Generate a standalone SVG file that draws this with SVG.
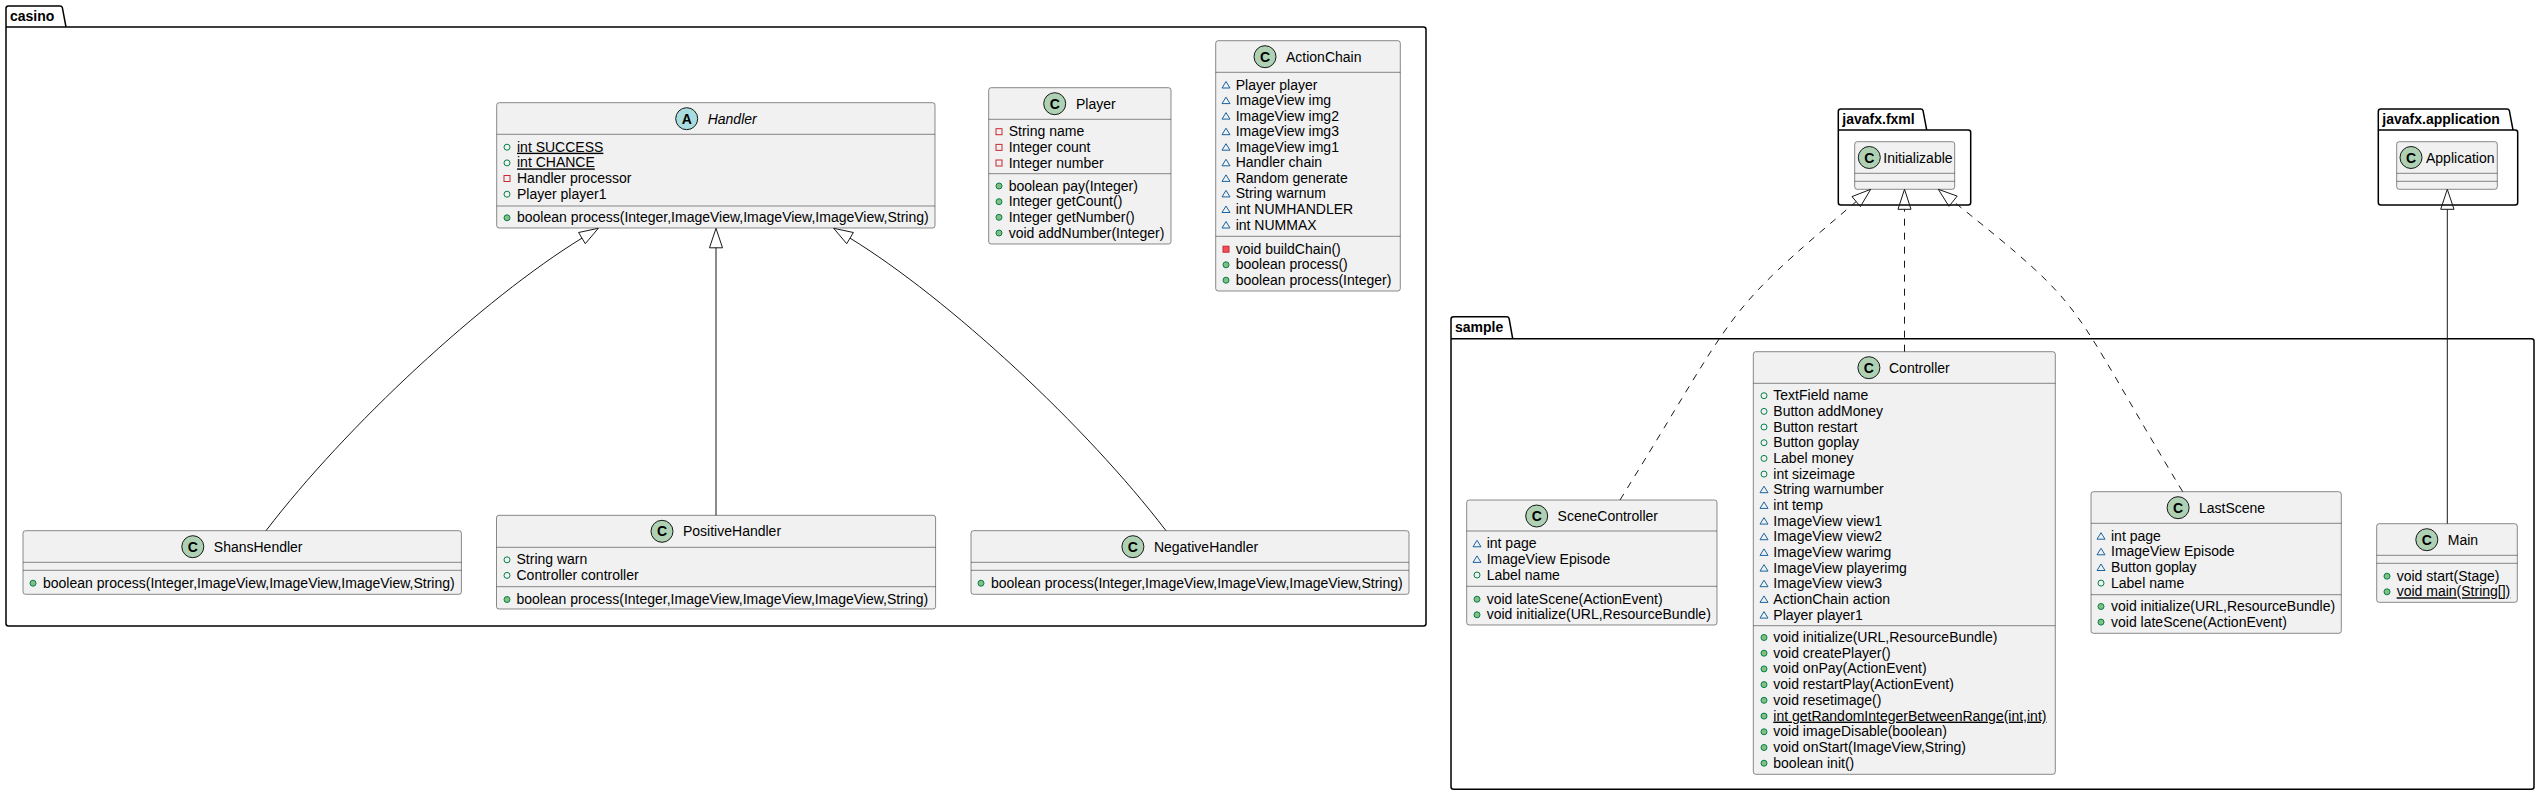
<svg xmlns="http://www.w3.org/2000/svg" xmlns:xlink="http://www.w3.org/1999/xlink" width="2540" height="796" viewBox="0 0 2540 796">
<style>
.t{font-family:"Liberation Sans",Arial,sans-serif;font-size:14px;fill:#000000}
.pl{font-family:"Liberation Sans",Arial,sans-serif;font-size:14px;font-weight:bold;fill:#000000}
.u{text-decoration:underline}
.it{font-style:italic}
.box{fill:#F1F1F1;stroke:#181818;stroke-width:0.5}
.sep{stroke:#181818;stroke-width:0.5}
.pkg{fill:none;stroke:#000000;stroke-width:1.5}
.ci{fill:#ADD1B2;stroke:#181818;stroke-width:1}
.ca{fill:#A9DCDF;stroke:#181818;stroke-width:1}
.cl{font-family:"Liberation Sans",Arial,sans-serif;font-size:14px;font-weight:bold;text-anchor:middle;fill:#000000}
.edge{fill:none;stroke:#181818;stroke-width:1}
.dash{stroke-dasharray:7,7}
.head{fill:none;stroke:#181818;stroke-width:1}
</style>
<defs>
<g id="fp"><circle r="3" fill="none" stroke="#038048"/></g>
<g id="mp"><circle r="3" fill="#84BE84" stroke="#038048"/></g>
<g id="fv"><rect x="-3" y="-3" width="6" height="6" fill="none" stroke="#C82930"/></g>
<g id="mv"><rect x="-3" y="-3" width="6" height="6" fill="#F24D5C" stroke="#C82930"/></g>
<g id="fk"><polygon points="0,-3.5 4,3 -4,3" fill="none" stroke="#1963A0"/></g>
<g id="mk"><polygon points="0,-3.5 4,3 -4,3" fill="#4177AF" stroke="#1963A0"/></g>
</defs>
<rect x="0" y="0" width="2540" height="796" fill="#FFFFFF"/>

<g id="pkg-casino">
<path class="pkg" d="M6,8.5 A2.5,2.5 0 0 1 8.5,6 L60,6 A2.5,2.5 0 0 1 62.4,7.8 L66,27 L1423.5,27 A2.5,2.5 0 0 1 1426,29.5 L1426,623.5 A2.5,2.5 0 0 1 1423.5,626 L8.5,626 A2.5,2.5 0 0 1 6,623.5 Z M6,27 L66,27"/>
<text class="pl" x="10" y="21">casino</text>
</g>
<g id="pkg-javafx-fxml">
<path class="pkg" d="M1838.3,111.5 A2.5,2.5 0 0 1 1840.8,109 L1920.7,109 A2.5,2.5 0 0 1 1923.1,110.8 L1926.7,130 L1968.2,130 A2.5,2.5 0 0 1 1970.7,132.5 L1970.7,202.5 A2.5,2.5 0 0 1 1968.2,205 L1840.8,205 A2.5,2.5 0 0 1 1838.3,202.5 Z M1838.3,130 L1926.7,130"/>
<text class="pl" x="1842.3" y="124">javafx.fxml</text>
</g>
<g id="pkg-javafx-application">
<path class="pkg" d="M2378.3,111.5 A2.5,2.5 0 0 1 2380.8,109 L2507,109 A2.5,2.5 0 0 1 2509.4,110.8 L2513,130 L2515.2,130 A2.5,2.5 0 0 1 2517.7,132.5 L2517.7,202.5 A2.5,2.5 0 0 1 2515.2,205 L2380.8,205 A2.5,2.5 0 0 1 2378.3,202.5 Z M2378.3,130 L2513,130"/>
<text class="pl" x="2382.3" y="124">javafx.application</text>
</g>
<g id="pkg-sample">
<path class="pkg" d="M1451,319.2 A2.5,2.5 0 0 1 1453.5,316.7 L1506.7,316.7 A2.5,2.5 0 0 1 1509.1,318.5 L1512.7,338.7 L2531.5,338.7 A2.5,2.5 0 0 1 2534,341.2 L2534,786.8 A2.5,2.5 0 0 1 2531.5,789.3 L1453.5,789.3 A2.5,2.5 0 0 1 1451,786.8 Z M1451,338.7 L1512.7,338.7"/>
<text class="pl" x="1455" y="331.7">sample</text>
</g>

<g id="Handler">
<rect class="box" x="496.7" y="102.7" width="438.3" height="125.3" rx="2.5"/>
<line class="sep" x1="496.7" y1="134.3" x2="935" y2="134.3"/>
<line class="sep" x1="496.7" y1="206" x2="935" y2="206"/>
<circle class="ca" cx="686.7" cy="118.7" r="11"/>
<text class="cl" x="686.7" y="123.7">A</text>
<text class="t it" x="707.7" y="123.7">Handler</text>
<use href="#fp" x="507" y="147.2"/><text class="t u" x="517" y="151.7">int SUCCESS</text>
<use href="#fp" x="507" y="162.9"/><text class="t u" x="517" y="167.4">int CHANCE</text>
<use href="#fv" x="507" y="178.5"/><text class="t" x="517" y="183">Handler processor</text>
<use href="#fp" x="507" y="194.2"/><text class="t" x="517" y="198.7">Player player1</text>
<use href="#mp" x="507" y="217.8"/><text class="t" x="517" y="222.3">boolean process(Integer,ImageView,ImageView,ImageView,String)</text>
</g>

<g id="Player">
<rect class="box" x="988.7" y="87.7" width="182.3" height="156.3" rx="2.5"/>
<line class="sep" x1="988.7" y1="119.3" x2="1171" y2="119.3"/>
<line class="sep" x1="988.7" y1="173.7" x2="1171" y2="173.7"/>
<circle class="ci" cx="1054.7" cy="103.7" r="11"/>
<text class="cl" x="1054.7" y="108.7">C</text>
<text class="t" x="1076" y="108.7">Player</text>
<use href="#fv" x="999" y="131.7"/><text class="t" x="1008.7" y="136.2">String name</text>
<use href="#fv" x="999" y="147.4"/><text class="t" x="1008.7" y="151.9">Integer count</text>
<use href="#fv" x="999" y="163"/><text class="t" x="1008.7" y="167.5">Integer number</text>
<use href="#mp" x="999" y="186"/><text class="t" x="1008.7" y="190.5">boolean pay(Integer)</text>
<use href="#mp" x="999" y="201.7"/><text class="t" x="1008.7" y="206.2">Integer getCount()</text>
<use href="#mp" x="999" y="217.3"/><text class="t" x="1008.7" y="221.8">Integer getNumber()</text>
<use href="#mp" x="999" y="233"/><text class="t" x="1008.7" y="237.5">void addNumber(Integer)</text>
</g>

<g id="ActionChain">
<rect class="box" x="1215.7" y="40.7" width="184.6" height="250.3" rx="2.5"/>
<line class="sep" x1="1215.7" y1="72.3" x2="1400.3" y2="72.3"/>
<line class="sep" x1="1215.7" y1="236.3" x2="1400.3" y2="236.3"/>
<circle class="ci" cx="1265" cy="56.7" r="11"/>
<text class="cl" x="1265" y="61.7">C</text>
<text class="t" x="1286" y="61.7">ActionChain</text>
<use href="#fk" x="1226" y="85"/><text class="t" x="1235.7" y="89.5">Player player</text>
<use href="#fk" x="1226" y="100.6"/><text class="t" x="1235.7" y="105.1">ImageView img</text>
<use href="#fk" x="1226" y="116.1"/><text class="t" x="1235.7" y="120.6">ImageView img2</text>
<use href="#fk" x="1226" y="131.7"/><text class="t" x="1235.7" y="136.2">ImageView img3</text>
<use href="#fk" x="1226" y="147.2"/><text class="t" x="1235.7" y="151.7">ImageView img1</text>
<use href="#fk" x="1226" y="162.8"/><text class="t" x="1235.7" y="167.3">Handler chain</text>
<use href="#fk" x="1226" y="178.4"/><text class="t" x="1235.7" y="182.9">Random generate</text>
<use href="#fk" x="1226" y="193.9"/><text class="t" x="1235.7" y="198.4">String warnum</text>
<use href="#fk" x="1226" y="209.5"/><text class="t" x="1235.7" y="214">int NUMHANDLER</text>
<use href="#fk" x="1226" y="225"/><text class="t" x="1235.7" y="229.5">int NUMMAX</text>
<use href="#mv" x="1226" y="249.2"/><text class="t" x="1235.7" y="253.7">void buildChain()</text>
<use href="#mp" x="1226" y="264.8"/><text class="t" x="1235.7" y="269.3">boolean process()</text>
<use href="#mp" x="1226" y="280.2"/><text class="t" x="1235.7" y="284.7">boolean process(Integer)</text>
</g>

<g id="ShansHendler">
<rect class="box" x="23" y="530.7" width="438.4" height="63.6" rx="2.5"/>
<line class="sep" x1="23" y1="562.3" x2="461.4" y2="562.3"/>
<line class="sep" x1="23" y1="570.3" x2="461.4" y2="570.3"/>
<circle class="ci" cx="192.8" cy="546.7" r="11"/>
<text class="cl" x="192.8" y="551.7">C</text>
<text class="t" x="213.8" y="551.7">ShansHendler</text>
<use href="#mp" x="33" y="583.2"/><text class="t" x="43" y="587.7">boolean process(Integer,ImageView,ImageView,ImageView,String)</text>
</g>

<g id="PositiveHandler">
<rect class="box" x="496.5" y="515.3" width="439.1" height="93.7" rx="2.5"/>
<line class="sep" x1="496.5" y1="547.3" x2="935.6" y2="547.3"/>
<line class="sep" x1="496.5" y1="586.7" x2="935.6" y2="586.7"/>
<circle class="ci" cx="662" cy="531.3" r="11"/>
<text class="cl" x="662" y="536.3">C</text>
<text class="t" x="683" y="536.3">PositiveHandler</text>
<use href="#fp" x="507" y="559.8"/><text class="t" x="516.5" y="564.3">String warn</text>
<use href="#fp" x="507" y="575.4"/><text class="t" x="516.5" y="579.9">Controller controller</text>
<use href="#mp" x="507" y="599.5"/><text class="t" x="516.5" y="604">boolean process(Integer,ImageView,ImageView,ImageView,String)</text>
</g>

<g id="NegativeHandler">
<rect class="box" x="971" y="530.7" width="438" height="63.6" rx="2.5"/>
<line class="sep" x1="971" y1="562.3" x2="1409" y2="562.3"/>
<line class="sep" x1="971" y1="570.3" x2="1409" y2="570.3"/>
<circle class="ci" cx="1132.9" cy="546.7" r="11"/>
<text class="cl" x="1132.9" y="551.7">C</text>
<text class="t" x="1153.9" y="551.7">NegativeHandler</text>
<use href="#mp" x="981" y="583.2"/><text class="t" x="991" y="587.7">boolean process(Integer,ImageView,ImageView,ImageView,String)</text>
</g>

<g id="Initializable">
<rect class="box" x="1854.7" y="141.7" width="100" height="47.6" rx="2.5"/>
<line class="sep" x1="1854.7" y1="173.3" x2="1954.7" y2="173.3"/>
<line class="sep" x1="1854.7" y1="181.3" x2="1954.7" y2="181.3"/>
<circle class="ci" cx="1869.3" cy="157.5" r="11"/>
<text class="cl" x="1869.3" y="162.5">C</text>
<text class="t" x="1883.3" y="162.5">Initializable</text>
</g>

<g id="Application">
<rect class="box" x="2396.7" y="141.7" width="100.6" height="47.6" rx="2.5"/>
<line class="sep" x1="2396.7" y1="173.3" x2="2497.3" y2="173.3"/>
<line class="sep" x1="2396.7" y1="181.3" x2="2497.3" y2="181.3"/>
<circle class="ci" cx="2411" cy="157.5" r="11"/>
<text class="cl" x="2411" y="162.5">C</text>
<text class="t" x="2426" y="162.5">Application</text>
</g>

<g id="SceneController">
<rect class="box" x="1466.7" y="500" width="250.3" height="125" rx="2.5"/>
<line class="sep" x1="1466.7" y1="531" x2="1717" y2="531"/>
<line class="sep" x1="1466.7" y1="586.3" x2="1717" y2="586.3"/>
<circle class="ci" cx="1536.7" cy="516" r="11"/>
<text class="cl" x="1536.7" y="521">C</text>
<text class="t" x="1557.6" y="521">SceneController</text>
<use href="#fk" x="1477" y="543.8"/><text class="t" x="1486.7" y="548.3">int page</text>
<use href="#fk" x="1477" y="559.4"/><text class="t" x="1486.7" y="563.9">ImageView Episode</text>
<use href="#fp" x="1477" y="575"/><text class="t" x="1486.7" y="579.5">Label name</text>
<use href="#mp" x="1477" y="599.2"/><text class="t" x="1486.7" y="603.7">void lateScene(ActionEvent)</text>
<use href="#mp" x="1477" y="614.8"/><text class="t" x="1486.7" y="619.3">void initialize(URL,ResourceBundle)</text>
</g>

<g id="Controller">
<rect class="box" x="1753.3" y="351.7" width="302" height="422.6" rx="2.5"/>
<line class="sep" x1="1753.3" y1="383.3" x2="2055.3" y2="383.3"/>
<line class="sep" x1="1753.3" y1="625.7" x2="2055.3" y2="625.7"/>
<circle class="ci" cx="1868.9" cy="367.7" r="11"/>
<text class="cl" x="1868.9" y="372.7">C</text>
<text class="t" x="1889" y="372.7">Controller</text>
<use href="#fp" x="1764" y="395.7"/><text class="t" x="1773.3" y="400.2">TextField name</text>
<use href="#fp" x="1764" y="411.4"/><text class="t" x="1773.3" y="415.9">Button addMoney</text>
<use href="#fp" x="1764" y="427"/><text class="t" x="1773.3" y="431.5">Button restart</text>
<use href="#fp" x="1764" y="442.7"/><text class="t" x="1773.3" y="447.2">Button goplay</text>
<use href="#fp" x="1764" y="458.4"/><text class="t" x="1773.3" y="462.9">Label money</text>
<use href="#fp" x="1764" y="474.1"/><text class="t" x="1773.3" y="478.6">int sizeimage</text>
<use href="#fk" x="1764" y="489.7"/><text class="t" x="1773.3" y="494.2">String warnumber</text>
<use href="#fk" x="1764" y="505.4"/><text class="t" x="1773.3" y="509.9">int temp</text>
<use href="#fk" x="1764" y="521.1"/><text class="t" x="1773.3" y="525.6">ImageView view1</text>
<use href="#fk" x="1764" y="536.7"/><text class="t" x="1773.3" y="541.2">ImageView view2</text>
<use href="#fk" x="1764" y="552.4"/><text class="t" x="1773.3" y="556.9">ImageView warimg</text>
<use href="#fk" x="1764" y="568.1"/><text class="t" x="1773.3" y="572.6">ImageView playerimg</text>
<use href="#fk" x="1764" y="583.7"/><text class="t" x="1773.3" y="588.2">ImageView view3</text>
<use href="#fk" x="1764" y="599.4"/><text class="t" x="1773.3" y="603.9">ActionChain action</text>
<use href="#fk" x="1764" y="615.1"/><text class="t" x="1773.3" y="619.6">Player player1</text>
<use href="#mp" x="1764" y="637.5"/><text class="t" x="1773.3" y="642">void initialize(URL,ResourceBundle)</text>
<use href="#mp" x="1764" y="653.2"/><text class="t" x="1773.3" y="657.7">void createPlayer()</text>
<use href="#mp" x="1764" y="668.9"/><text class="t" x="1773.3" y="673.4">void onPay(ActionEvent)</text>
<use href="#mp" x="1764" y="684.6"/><text class="t" x="1773.3" y="689.1">void restartPlay(ActionEvent)</text>
<use href="#mp" x="1764" y="700.3"/><text class="t" x="1773.3" y="704.8">void resetimage()</text>
<use href="#mp" x="1764" y="716.1"/><text class="t u" x="1773.3" y="720.6">int getRandomIntegerBetweenRange(int,int)</text>
<use href="#mp" x="1764" y="731.8"/><text class="t" x="1773.3" y="736.3">void imageDisable(boolean)</text>
<use href="#mp" x="1764" y="747.5"/><text class="t" x="1773.3" y="752">void onStart(ImageView,String)</text>
<use href="#mp" x="1764" y="763.2"/><text class="t" x="1773.3" y="767.7">boolean init()</text>
</g>

<g id="LastScene">
<rect class="box" x="2091" y="491.7" width="250.3" height="141.6" rx="2.5"/>
<line class="sep" x1="2091" y1="523.3" x2="2341.3" y2="523.3"/>
<line class="sep" x1="2091" y1="594.7" x2="2341.3" y2="594.7"/>
<circle class="ci" cx="2178.1" cy="507.7" r="11"/>
<text class="cl" x="2178.1" y="512.7">C</text>
<text class="t" x="2199" y="512.7">LastScene</text>
<use href="#fk" x="2101" y="536.2"/><text class="t" x="2111" y="540.7">int page</text>
<use href="#fk" x="2101" y="551.8"/><text class="t" x="2111" y="556.3">ImageView Episode</text>
<use href="#fk" x="2101" y="567.5"/><text class="t" x="2111" y="572">Button goplay</text>
<use href="#fp" x="2101" y="583.1"/><text class="t" x="2111" y="587.6">Label name</text>
<use href="#mp" x="2101" y="606.5"/><text class="t" x="2111" y="611">void initialize(URL,ResourceBundle)</text>
<use href="#mp" x="2101" y="622.1"/><text class="t" x="2111" y="626.6">void lateScene(ActionEvent)</text>
</g>

<g id="Main">
<rect class="box" x="2376.7" y="523.7" width="140.6" height="78.6" rx="2.5"/>
<line class="sep" x1="2376.7" y1="555.3" x2="2517.3" y2="555.3"/>
<line class="sep" x1="2376.7" y1="563.3" x2="2517.3" y2="563.3"/>
<circle class="ci" cx="2426.8" cy="539.7" r="11"/>
<text class="cl" x="2426.8" y="544.7">C</text>
<text class="t" x="2447.8" y="544.7">Main</text>
<use href="#mp" x="2387" y="576.2"/><text class="t" x="2396.7" y="580.7">void start(Stage)</text>
<use href="#mp" x="2387" y="591.8"/><text class="t u" x="2396.7" y="596.3">void main(String[])</text>
</g>

<g id="connectors">
<path class="edge" d="M266,530.7 C346,426 483,299 582,238.1"/>
<polygon class="head" points="598.3,228.3 585.3,243.7 578.6,232.5"/>
<path class="edge" d="M716,515.3 L716,247.8"/>
<polygon class="head" points="716,228.3 722.5,247.8 709.5,247.8"/>
<path class="edge" d="M1166,530.7 C1086,426 949,299 850,238.1"/>
<polygon class="head" points="833.7,228.3 846.7,243.7 853.4,232.5"/>
<path class="edge dash" d="M1620,500 C1741.2,304.5 1718.5,317.7 1856.2,201.6"/>
<polygon class="head" points="1870.7,189.3 1860.4,206.6 1852,196.6"/>
<path class="edge dash" d="M1904.5,351.7 L1904.5,209.3"/>
<polygon class="head" points="1904.5,189.3 1911,209.3 1898,209.3"/>
<path class="edge dash" d="M2182.7,491.7 C2063.8,294.8 2093.4,313.5 1953.1,201.2"/>
<polygon class="head" points="1938.3,189.3 1949,206.3 1957.2,196.1"/>
<path class="edge" d="M2447.3,523.7 L2447.3,209.3"/>
<polygon class="head" points="2447.3,189.3 2454,209.3 2440.7,209.3"/>
</g>
</svg>
